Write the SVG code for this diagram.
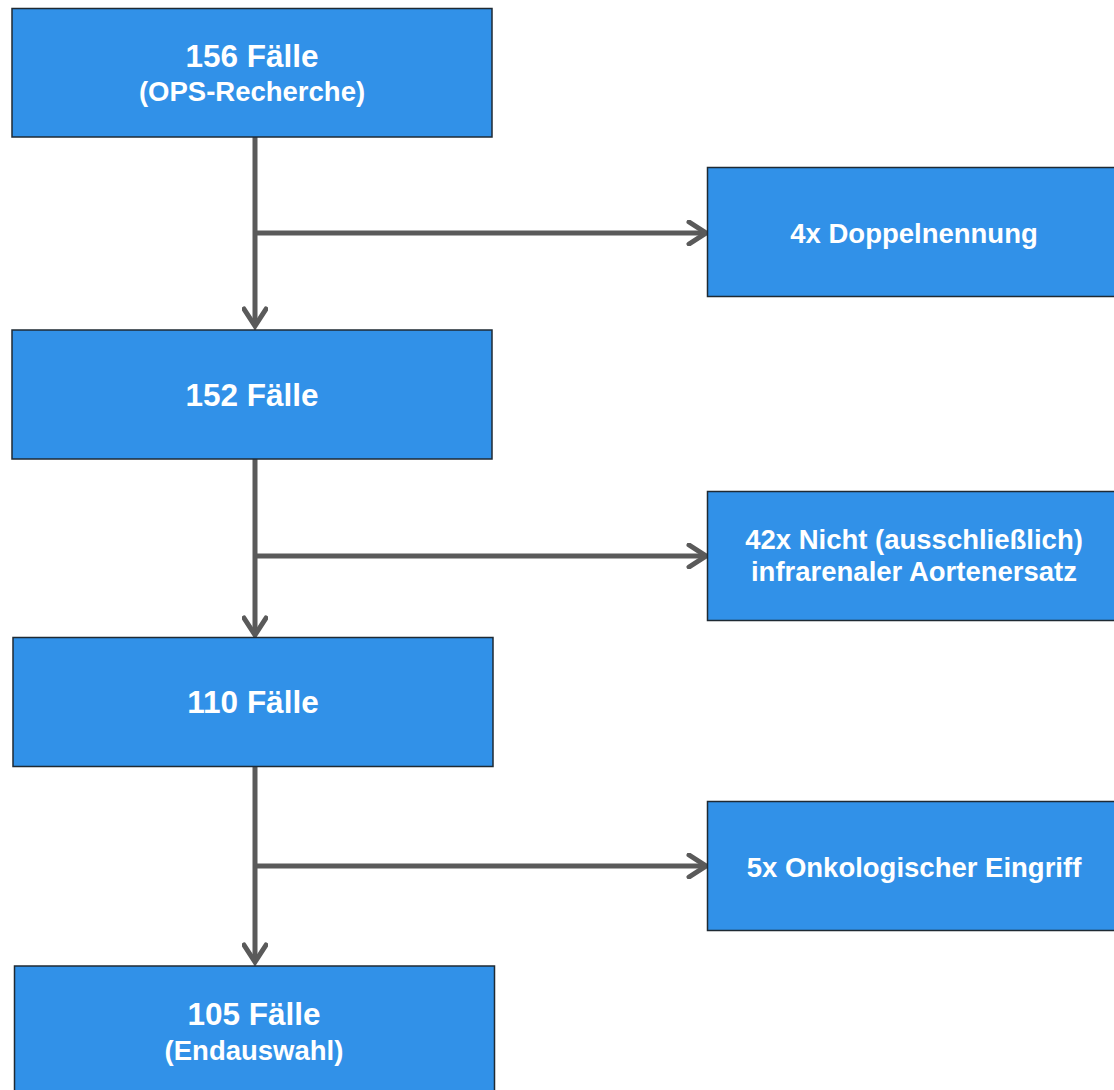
<svg xmlns="http://www.w3.org/2000/svg" width="1114" height="1090" viewBox="0 0 1114 1090">
<style>
.box{fill:#3191E8;stroke:#1f2a33;stroke-width:1.5}
.t{font-family:"Liberation Sans",Arial,sans-serif;font-weight:bold;fill:#fff;text-anchor:middle}
.big{font-size:31.5px}
.sm{font-size:27.5px}
.c{stroke:#5a5a5a;stroke-width:5;fill:none}
</style>
<defs>
<marker id="ah" viewBox="0 0 26 26" refX="22" refY="13" markerWidth="26" markerHeight="26" markerUnits="userSpaceOnUse" orient="auto">
<path d="M5,2 L22,13 L5,24" fill="none" stroke="#5a5a5a" stroke-width="5" stroke-linecap="round" stroke-linejoin="miter"/>
</marker>
</defs>
<rect width="1114" height="1090" fill="#fff"/>
<g id="connectors">
<path class="c" d="M255,137 L255,326" marker-end="url(#ah)"/>
<path class="c" d="M255,233 L706,233" marker-end="url(#ah)"/>
<path class="c" d="M255,459 L255,635" marker-end="url(#ah)"/>
<path class="c" d="M255,556 L706,556" marker-end="url(#ah)"/>
<path class="c" d="M255,767 L255,962" marker-end="url(#ah)"/>
<path class="c" d="M255,866 L706,866" marker-end="url(#ah)"/>
</g>
<g id="n1"><rect class="box" x="12" y="8.5" width="480" height="128.5"/>
<text class="t big" x="252" y="67">156 Fälle</text>
<text class="t sm" x="252" y="101">(OPS-Recherche)</text></g>
<g id="n2"><rect class="box" x="12" y="330" width="480" height="129"/>
<text class="t big" x="252" y="406">152 Fälle</text></g>
<g id="n3"><rect class="box" x="13" y="637.5" width="480" height="129"/>
<text class="t big" x="253" y="713">110 Fälle</text></g>
<g id="n4"><rect class="box" x="14.5" y="966" width="480" height="130"/>
<text class="t big" x="254" y="1025">105 Fälle</text>
<text class="t sm" x="254" y="1060">(Endauswahl)</text></g>
<g id="e1"><rect class="box" x="707.5" y="167.5" width="410" height="129"/>
<text class="t sm" x="914" y="243">4x Doppelnennung</text></g>
<g id="e2"><rect class="box" x="707.5" y="491.5" width="410" height="129"/>
<text class="t sm" x="914" y="549">42x Nicht (ausschließlich)</text>
<text class="t sm" x="914" y="581">infrarenaler Aortenersatz</text></g>
<g id="e3"><rect class="box" x="707.5" y="801.5" width="410" height="129"/>
<text class="t sm" x="914" y="877">5x Onkologischer Eingriff</text></g>
</svg>
